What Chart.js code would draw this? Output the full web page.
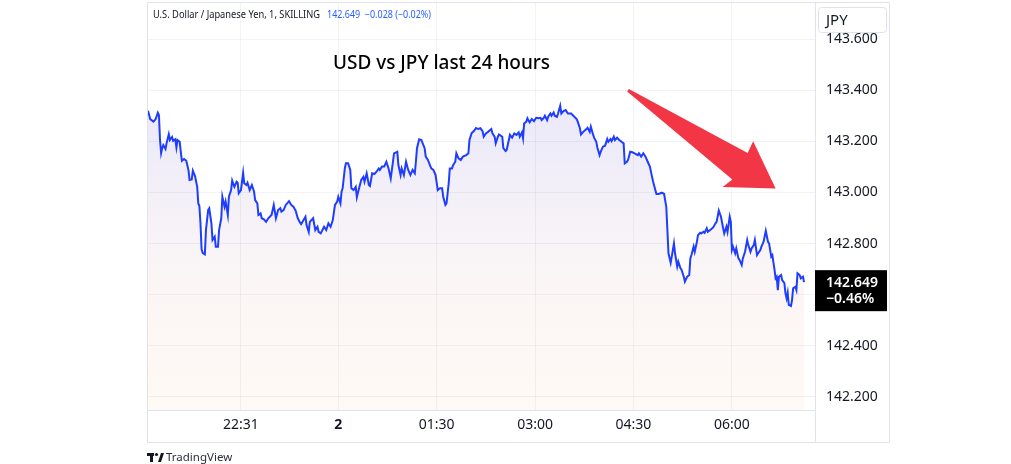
<!DOCTYPE html>
<html>
<head>
<meta charset="utf-8">
<script src="https://cdn.jsdelivr.net/npm/chart.js@4.4.1/dist/chart.umd.min.js"></script>
<style>
  html, body { margin: 0; padding: 0; background: #fff; overflow: hidden; }
  #wrap { width: 1011px; height: 464px; position: relative; }
</style>
</head>
<body>
<div id="wrap"><canvas id="usdjpy" width="1011" height="464"></canvas></div>
<script>
// minutes from midnight of day 2 (negative = previous evening), 1-minute bars
const minutes = [
  -174, -172, -169, -167, -165, -164, -163, -162, -161, -160,
  -158, -157, -155, -154, -152, -151, -149, -148, -147, -145,
  -144, -143, -141, -139, -137, -136, -134, -133, -131, -129,
  -128, -127, -126, -125, -124, -122, -121, -119, -118, -116,
  -115, -113, -112, -110, -109, -107, -106, -104, -103, -101,
  -100, -98, -97, -95, -93, -92, -91, -89, -87, -86,
  -84, -83, -81, -79, -77, -76, -74, -73, -71, -70,
  -68, -66, -64, -61, -59, -57, -55, -53, -52, -50,
  -48, -45, -43, -41, -39, -37, -35, -34, -30, -29,
  -27, -26, -23, -21, -19, -18, -16, -13, -11, -9,
  -7, -5, -3, -1, 0, 2, 3, 4, 6, 7,
  9, 11, 12, 14, 16, 17, 19, 21, 23, 24,
  26, 28, 29, 31, 33, 35, 37, 38, 40, 42,
  44, 46, 48, 50, 51, 54, 55, 57, 58, 60,
  62, 64, 66, 68, 70, 71, 72, 74, 76, 79,
  80, 82, 85, 87, 89, 91, 93, 95, 96, 98,
  99, 101, 102, 104, 105, 107, 108, 110, 112, 114,
  117, 119, 120, 122, 124, 126, 128, 130, 132, 133,
  135, 137, 140, 141, 143, 144, 146, 147, 150, 151,
  153, 154, 156, 157, 159, 161, 163, 165, 166, 168,
  169, 170, 172, 173, 175, 177, 179, 181, 183, 185,
  186, 188, 189, 191, 192, 194, 195, 197, 198, 200,
  201, 203, 204, 206, 208, 210, 213, 215, 218, 219,
  221, 222, 224, 227, 228, 230, 231, 233, 234, 236,
  237, 239, 240, 242, 244, 246, 247, 249, 250, 252,
  253, 255, 257, 259, 261, 262, 264, 265, 267, 269,
  271, 274, 275, 277, 279, 281, 283, 285, 287, 288,
  290, 291, 293, 296, 298, 300, 301, 302, 304, 305,
  307, 308, 310, 311, 313, 314, 316, 317, 319, 321,
  322, 323, 325, 326, 328, 329, 331, 332, 334, 335,
  337, 338, 341, 343, 345, 346, 348, 350, 352, 353,
  355, 356, 358, 359, 360, 361, 363, 364, 366, 367,
  369, 370, 372, 374, 375, 377, 378, 380, 381, 383,
  384, 386, 387, 389, 391, 393, 394, 396, 397, 399,
  400, 401, 402, 403, 405, 406, 408, 409, 410, 411,
  412, 414, 415, 416, 418, 419, 420, 422, 423, 425,
  426
];
const prices = [
  143.320, 143.287, 143.277, 143.287, 143.312, 143.303, 143.205, 143.154, 143.174, 143.185,
  143.170, 143.193, 143.228, 143.205, 143.217, 143.202, 143.208, 143.176, 143.205, 143.198,
  143.159, 143.124, 143.131, 143.124, 143.088, 143.049, 143.051, 143.085, 143.064, 143.022,
  142.957, 142.947, 142.879, 142.778, 142.764, 142.758, 142.853, 142.931, 142.938, 142.879,
  142.814, 142.827, 142.788, 142.788, 142.853, 142.899, 142.983, 142.944, 142.964, 142.912,
  142.983, 143.009, 143.046, 143.022, 143.042, 143.038, 142.997, 143.009, 143.077, 143.036,
  143.029, 143.038, 143.009, 143.029, 143.003, 142.970, 142.957, 142.912, 142.918, 142.899,
  142.895, 142.885, 142.899, 142.912, 142.951, 142.899, 142.931, 142.938, 142.925, 142.931,
  142.951, 142.966, 142.951, 142.944, 142.929, 142.899, 142.882, 142.876, 142.905, 142.873,
  142.846, 142.885, 142.899, 142.853, 142.866, 142.846, 142.840, 142.866, 142.853, 142.879,
  142.866, 142.892, 142.951, 142.964, 142.983, 142.957, 143.003, 143.016, 143.094, 143.114,
  143.114, 143.088, 143.016, 143.009, 143.022, 142.981, 143.016, 143.049, 143.061, 143.042,
  143.075, 143.029, 143.025, 143.075, 143.072, 143.081, 143.094, 143.088, 143.101, 143.101,
  143.120, 143.094, 143.055, 143.120, 143.153, 143.159, 143.107, 143.068, 143.094, 143.068,
  143.120, 143.088, 143.068, 143.088, 143.075, 143.120, 143.173, 143.208, 143.205, 143.173,
  143.140, 143.127, 143.094, 143.088, 143.068, 143.009, 143.016, 143.016, 142.983, 142.951,
  142.957, 143.036, 143.094, 143.094, 143.107, 143.120, 143.153, 143.133, 143.127, 143.140,
  143.146, 143.153, 143.205, 143.232, 143.240, 143.252, 143.248, 143.251, 143.240, 143.218,
  143.231, 143.237, 143.248, 143.231, 143.218, 143.192, 143.218, 143.227, 143.218, 143.173,
  143.162, 143.166, 143.205, 143.225, 143.214, 143.231, 143.225, 143.235, 143.218, 143.235,
  143.212, 143.270, 143.277, 143.290, 143.274, 143.287, 143.279, 143.292, 143.290, 143.292,
  143.283, 143.292, 143.300, 143.283, 143.296, 143.309, 143.300, 143.313, 143.300, 143.296,
  143.309, 143.339, 143.309, 143.318, 143.322, 143.309, 143.309, 143.300, 143.287, 143.277,
  143.251, 143.227, 143.237, 143.248, 143.253, 143.237, 143.257, 143.227, 143.214, 143.198,
  143.175, 143.146, 143.159, 143.179, 143.183, 143.209, 143.198, 143.209, 143.201, 143.218,
  143.205, 143.214, 143.205, 143.198, 143.192, 143.114, 143.120, 143.127, 143.159, 143.157,
  143.153, 143.146, 143.153, 143.140, 143.153, 143.140, 143.120, 143.101, 143.061, 143.042,
  143.009, 142.994, 142.994, 142.999, 142.994, 142.944, 142.853, 142.762, 142.725, 142.749,
  142.801, 142.762, 142.710, 142.729, 142.703, 142.697, 142.670, 142.651, 142.670, 142.677,
  142.742, 142.755, 142.788, 142.768, 142.807, 142.833, 142.842, 142.840, 142.846, 142.842,
  142.860, 142.846, 142.856, 142.864, 142.879, 142.885, 142.929, 142.905, 142.860, 142.840,
  142.866, 142.846, 142.905, 142.885, 142.775, 142.788, 142.762, 142.781, 142.742, 142.736,
  142.716, 142.742, 142.768, 142.814, 142.794, 142.768, 142.781, 142.794, 142.814, 142.755,
  142.762, 142.775, 142.788, 142.807, 142.850, 142.807, 142.801, 142.749, 142.755, 142.697,
  142.664, 142.670, 142.618, 142.670, 142.677, 142.657, 142.645, 142.605, 142.586, 142.608,
  142.560, 142.556, 142.579, 142.625, 142.631, 142.618, 142.684, 142.677, 142.664, 142.670,
  142.649
];

const timeTicks = [-89, 0, 90, 180, 270, 360];
const timeLabels = ['22:31', '2', '01:30', '03:00', '04:30', '06:00'];
const priceTicks = [142.2, 142.4, 142.6, 142.8, 143.0, 143.2, 143.4, 143.6];

const symbolText = 'U.S. Dollar / Japanese Yen, 1, SKILLING';
const quoteText = '142.649  \u22120.028 (\u22120.02%)';
const lastPrice = 142.649;
const lastChange = '\u22120.46%';
const titleText = 'USD vs JPY last 24 hours';
// arrow annotation in data units (minutes, price)
const arrowFrom = { x: 265, y: 143.40 };
const arrowTo = { x: 400, y: 143.015 };

const FONT = '"Noto Sans", "Open Sans", sans-serif';
const BORDER = '#e0e3eb';

const points = minutes.map((m, i) => ({ x: m, y: prices[i] }));

const decor = {
  id: 'decor',
  beforeDraw(chart) {
    const c = chart.ctx;
    c.save();
    c.fillStyle = '#ffffff';
    c.fillRect(0, 0, chart.width, chart.height);
    c.restore();
  },
  afterDraw(chart) {
    const c = chart.ctx;
    const a = chart.chartArea;
    const xs = chart.scales.x, ys = chart.scales.y;
    c.save();

    // pane borders
    c.strokeStyle = BORDER;
    c.lineWidth = 1;
    c.beginPath();
    c.rect(147.5, 2.5, 742, 440);
    c.moveTo(a.right + 0.5, 2.5); c.lineTo(a.right + 0.5, 442.5);
    c.moveTo(147.5, a.bottom + 0.5); c.lineTo(a.right + 0.5, a.bottom + 0.5);
    c.stroke();

    // symbol legend
    c.textBaseline = 'middle';
    c.textAlign = 'left';
    c.font = '10px ' + FONT;
    c.fillStyle = '#131722';
    c.fillText(symbolText, 153, 15, 167);
    c.fillStyle = '#2962ff';
    c.fillText(quoteText, 327, 15, 104);

    // title
    c.font = '500 19px ' + FONT;
    c.fillStyle = '#000000';
    c.fillText(titleText, 333, 64, 217);

    // red arrow
    const tx = xs.getPixelForValue(arrowFrom.x), ty = ys.getPixelForValue(arrowFrom.y);
    const px = xs.getPixelForValue(arrowTo.x), py = ys.getPixelForValue(arrowTo.y);
    const len = Math.hypot(px - tx, py - ty);
    const ux = (px - tx) / len, uy = (py - ty) / len;
    const nx = -uy, ny = ux;
    const at = (u, n) => [px - ux * u + nx * n, py - uy * u + ny * n];
    const poly = [
      [tx - nx * 1.5, ty - ny * 1.5],
      at(43, -14), at(45, -27), [px, py], at(45, 28), at(41, 16.5),
      [tx + nx * 1.5, ty + ny * 1.5]
    ];
    c.fillStyle = '#f23645';
    c.beginPath();
    poly.forEach((p, i) => i ? c.lineTo(p[0], p[1]) : c.moveTo(p[0], p[1]));
    c.closePath();
    c.fill();

    // currency box
    c.fillStyle = '#ffffff';
    c.strokeStyle = BORDER;
    c.beginPath();
    c.roundRect(818.5, 7.5, 68, 25, 3);
    c.fill();
    c.stroke();
    c.fillStyle = '#131722';
    c.font = '15px ' + FONT;
    c.fillText('JPY', 826, 20.5);

    // last price label
    const ly = ys.getPixelForValue(lastPrice);
    c.fillStyle = '#000000';
    c.fillRect(a.right, ly - 12, 72, 41);
    c.fillStyle = '#ffffff';
    c.font = '600 14px ' + FONT;
    c.fillText(lastPrice.toFixed(3), 826, ly + 1);
    c.fillText(lastChange, 826, ly + 17);

    // TradingView mark
    c.fillStyle = '#131722';
    c.fillRect(147, 453, 7, 3);
    c.fillRect(150, 453, 3, 9);
    c.beginPath();
    c.arc(156.5, 454.5, 1.6, 0, Math.PI * 2);
    c.fill();
    c.beginPath();
    c.moveTo(158, 462); c.lineTo(161, 453); c.lineTo(164, 453); c.lineTo(161, 462);
    c.closePath();
    c.fill();
    c.font = '11.5px ' + FONT;
    c.fillStyle = '#2a2e39';
    c.fillText('TradingView', 166, 457.5);

    c.restore();
  }
};

new Chart(document.getElementById('usdjpy'), {
  type: 'line',
  data: {
    datasets: [{
      data: points,
      borderColor: '#1e3dff',
      borderWidth: 2,
      pointRadius: 0,
      tension: 0,
      fill: 'start',
      backgroundColor: (ctx) => {
        const area = ctx.chart.chartArea;
        if (!area) return 'rgba(0,0,0,0)';
        const g = ctx.chart.ctx.createLinearGradient(0, area.top, 0, area.bottom);
        g.addColorStop(0, 'rgba(110,95,210,0.17)');
        g.addColorStop(0.35, 'rgba(120,105,210,0.13)');
        g.addColorStop(0.7, 'rgba(220,170,160,0.10)');
        g.addColorStop(1, 'rgba(245,200,150,0.10)');
        return g;
      }
    }]
  },
  options: {
    responsive: false,
    animation: false,
    devicePixelRatio: 1,
    layout: { padding: { left: 148, right: 121, top: 3, bottom: 21 } },
    plugins: { legend: { display: false }, tooltip: { enabled: false } },
    scales: {
      x: {
        type: 'linear',
        min: -174,
        max: 436,
        afterBuildTicks: (s) => { s.ticks = timeTicks.map(v => ({ value: v })); },
        afterFit: (s) => { s.height = 33; s.paddingLeft = 0; s.paddingRight = 0; },
        grid: { color: 'rgba(42,46,57,0.06)', drawTicks: false },
        border: { display: false },
        ticks: {
          padding: 7,
          maxRotation: 0,
          autoSkip: false,
          color: '#131722',
          font: (ctx) => ({ family: FONT, size: 14, weight: ctx.tick && ctx.tick.value === 0 ? 'bold' : 'normal' }),
          callback: (v) => timeLabels[timeTicks.indexOf(v)]
        }
      },
      y: {
        position: 'right',
        min: 142.149,
        max: 143.741,
        afterBuildTicks: (s) => { s.ticks = priceTicks.map(v => ({ value: v })); },
        afterFit: (s) => { s.width = 75; s.paddingTop = 0; s.paddingBottom = 0; },
        grid: { color: 'rgba(42,46,57,0.06)', drawTicks: false },
        border: { display: false },
        ticks: {
          padding: 11,
          color: '#131722',
          font: { family: FONT, size: 14 },
          callback: (v) => Number(v).toFixed(3)
        }
      }
    }
  },
  plugins: [decor]
});
</script>
</body>
</html>
